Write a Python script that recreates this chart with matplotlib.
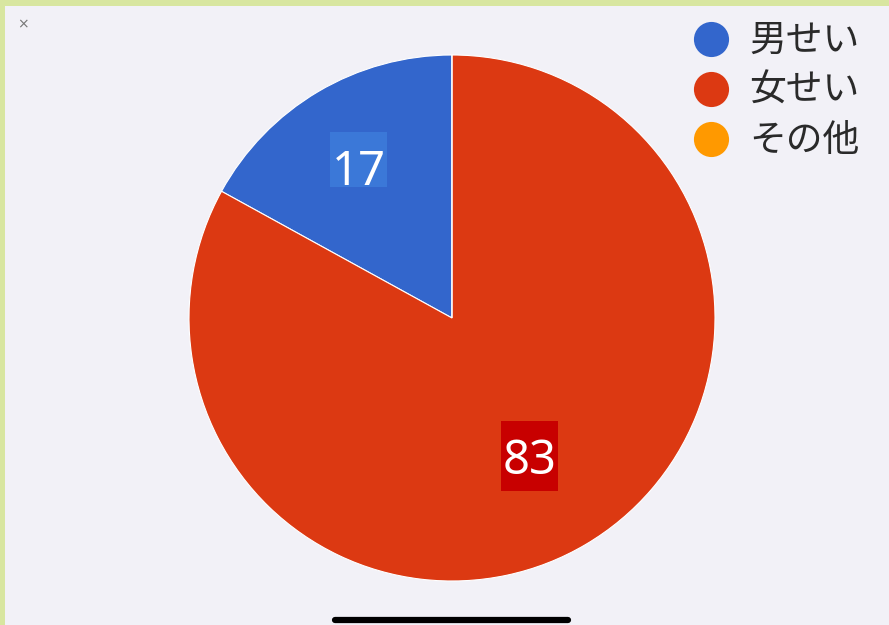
import numpy as np
import matplotlib.pyplot as plt
from matplotlib.patches import Rectangle

plt.rcParams['font.family'] = ['Noto Sans CJK JP', 'DejaVu Sans']

labels = ['男せい', '女せい', 'その他']
values = [17, 83, 0]
colors = ['#3366CC', '#DC3912', '#FF9900']
box_colors = ['#3B78D8', '#C80000', '#FF9900']
label_dist = [0.667, 0.61, 0.6]
box_below = [20, 35, 20]   # px of label box under digit centre

W, H = 889, 625
fig = plt.figure(figsize=(W / 100, H / 100), dpi=100)
fig.patch.set_facecolor('#F2F1F7')

# background / frame in pixel coordinates
bg = fig.add_axes([0, 0, 1, 1])
bg.set_xlim(0, W)
bg.set_ylim(H, 0)
bg.axis('off')
bg.add_patch(Rectangle((0, 0), W, 6, color='#D8E6A0', lw=0))
bg.add_patch(Rectangle((0, 0), 5, H, color='#D8E6A0', lw=0))
bg.text(23, 24, '×', fontsize=10, color='#777777', ha='center', va='center',
        family='DejaVu Sans')
bg.plot([335, 568], [619.5, 619.5], color='black', lw=4.5,
        solid_capstyle='round')

# legend
for i, (lab, col) in enumerate(zip(labels, colors)):
    y = 39 + 50 * i
    bg.scatter([711], [y], s=640, color=col, lw=0)
    bg.text(749, y + 1, lab, fontsize=26.5, color='#2a2a2a',
            ha='left', va='center')

# pie
cx, cy, r = 452, 318, 263
ax = fig.add_axes([(cx - r) / W, (H - cy - r) / H, 2 * r / W, 2 * r / H])
ax.pie(values, colors=colors, startangle=90, counterclock=True,
       wedgeprops=dict(edgecolor='white', linewidth=0.8))
ax.set_xlim(-1, 1)
ax.set_ylim(-1, 1)
ax.set_aspect('equal')
ax.axis('off')

# value labels (drawn in pixel coords on top)
top = fig.add_axes([0, 0, 1, 1])
top.set_xlim(0, W)
top.set_ylim(H, 0)
top.axis('off')
total = sum(values)
start = 90
for v, bc, d, below in zip(values, box_colors, label_dist, box_below):
    if v == 0:
        continue
    ang = np.deg2rad(start + 360 * v / total / 2)
    start += 360 * v / total
    x = cx + d * r * np.cos(ang) - 4
    y = cy - d * r * np.sin(ang)
    top.add_patch(Rectangle((x - 28.5, y - 35), 57, 35 + below, color=bc, lw=0))
    top.text(x, y + 17.5, str(v), fontsize=34, color='white',
             ha='center', va='baseline', family='Noto Sans')

fig.savefig('out.png', dpi=100, facecolor=fig.get_facecolor())
